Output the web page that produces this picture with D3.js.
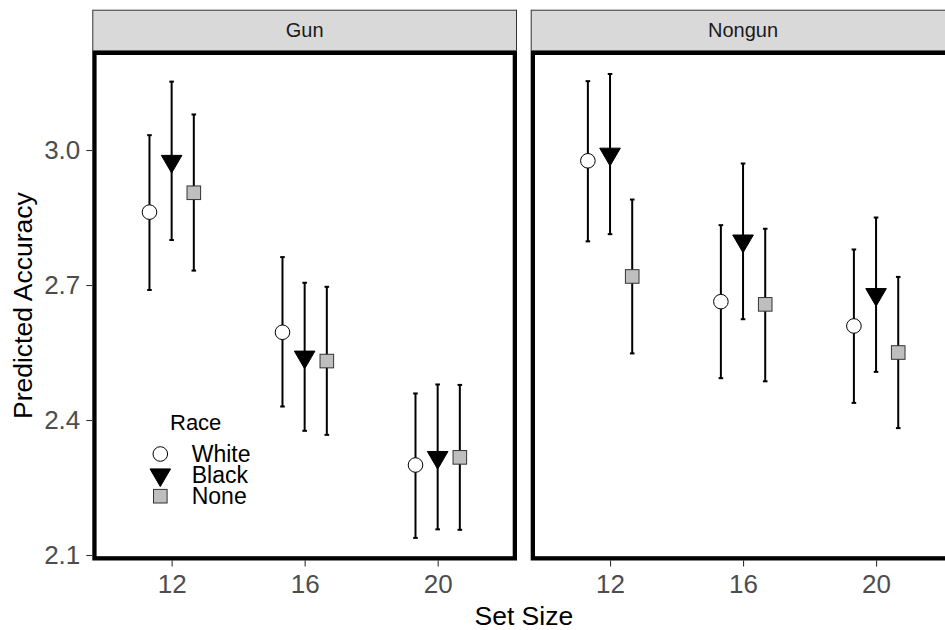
<!DOCTYPE html>
<html>
<head>
<meta charset="utf-8">
<script src="https://cdn.jsdelivr.net/npm/d3@7"></script>
<style>
  html, body { margin: 0; padding: 0; background: #fff; }
  svg { display: block; font-family: "Liberation Sans", Arial, sans-serif; }
</style>
</head>
<body>
<svg id="chart" width="945" height="630"></svg>
<script>
// Set sizes on the x axis and the two stimulus panels
const setSizes = [12, 16, 20];
const panels = ["Gun", "Nongun"];
const races = ["White", "Black", "None"];
const yTicks = [2.1, 2.4, 2.7, 3.0];

// Predicted accuracy with lower / upper interval bounds, per panel and race
const gunWhite      = [2.862, 2.595, 2.300];
const gunWhiteLo    = [2.689, 2.430, 2.138];
const gunWhiteHi    = [3.033, 2.762, 2.459];
const gunBlack      = [2.975, 2.540, 2.317];
const gunBlackLo    = [2.800, 2.376, 2.157];
const gunBlackHi    = [3.152, 2.705, 2.479];
const gunNone       = [2.905, 2.531, 2.317];
const gunNoneLo     = [2.732, 2.367, 2.156];
const gunNoneHi     = [3.079, 2.696, 2.478];

const nongunWhite   = [2.976, 2.663, 2.609];
const nongunWhiteLo = [2.797, 2.493, 2.438];
const nongunWhiteHi = [3.153, 2.833, 2.779];
const nongunBlack   = [2.991, 2.798, 2.679];
const nongunBlackLo = [2.813, 2.624, 2.507];
const nongunBlackHi = [3.169, 2.970, 2.850];
const nongunNone    = [2.719, 2.657, 2.550];
const nongunNoneLo  = [2.548, 2.486, 2.382];
const nongunNoneHi  = [2.890, 2.825, 2.718];

const series = {
  Gun: {
    White: [gunWhite, gunWhiteLo, gunWhiteHi],
    Black: [gunBlack, gunBlackLo, gunBlackHi],
    None:  [gunNone,  gunNoneLo,  gunNoneHi]
  },
  Nongun: {
    White: [nongunWhite, nongunWhiteLo, nongunWhiteHi],
    Black: [nongunBlack, nongunBlackLo, nongunBlackHi],
    None:  [nongunNone,  nongunNoneLo,  nongunNoneHi]
  }
};

const rows = [];
panels.forEach(p => races.forEach(r => setSizes.forEach((s, i) => {
  const [m, lo, hi] = series[p][r];
  rows.push({ panel: p, race: r, size: s, mean: m[i], lo: lo[i], hi: hi[i] });
})));

const svg = d3.select("#chart");
const FONT = '"Liberation Sans", Arial, sans-serif';

// Layout
const panelW = 424.7;
const panelLeft = { Gun: 92.3, Nongun: 530.7 };
const stripTop = 9.7, panelTop = 50.7, panelBottom = 560.5;

const y = d3.scaleLinear().domain([2.0878, 3.2207]).range([panelBottom, panelTop]);
const xDomain = [9.614, 22.386];
const dodge = { White: -2 / 3, Black: 0, None: 2 / 3 };

// Point shapes (ggplot-style 21, 25, 22)
const circleR = 7.3;
const sqSide = 13.6;
const triHalfW = 10.3, triR = 11.8, triYc = 5.9;

function drawShape(g, race, cx, cy) {
  if (race === "White") {
    g.append("circle").attr("cx", cx).attr("cy", cy).attr("r", circleR)
      .attr("fill", "#ffffff").attr("stroke", "#000").attr("stroke-width", 1);
  } else if (race === "Black") {
    const pts = [[cx, cy + triR], [cx + triHalfW, cy - triYc], [cx - triHalfW, cy - triYc]];
    g.append("polygon").attr("points", pts.map(p => p.join(",")).join(" "))
      .attr("fill", "#000").attr("stroke", "#000").attr("stroke-width", 1);
  } else {
    g.append("rect").attr("x", cx - sqSide / 2).attr("y", cy - sqSide / 2)
      .attr("width", sqSide).attr("height", sqSide)
      .attr("fill", "#bebebe").attr("stroke", "#333").attr("stroke-width", 1);
  }
}

panels.forEach(p => {
  const x0 = panelLeft[p];
  const x = d3.scaleLinear().domain(xDomain).range([x0, x0 + panelW]);
  const g = svg.append("g");

  // strip
  g.append("rect").attr("x", x0 + 0.5).attr("y", stripTop + 0.5)
    .attr("width", panelW - 1).attr("height", panelTop - stripTop - 0.5)
    .attr("fill", "#d9d9d9").attr("stroke", "#333").attr("stroke-width", 1);
  g.append("text").attr("x", x0 + panelW / 2).attr("y", (stripTop + panelTop) / 2)
    .attr("dy", "0.36em").attr("text-anchor", "middle")
    .attr("font-size", 20).attr("fill", "#1a1a1a").text(p);

  // panel background
  g.append("rect").attr("x", x0).attr("y", panelTop)
    .attr("width", panelW).attr("height", panelBottom - panelTop).attr("fill", "#fff");

  // x axis
  const xAxis = g.append("g").attr("transform", `translate(0,${panelBottom})`)
    .call(d3.axisBottom(x).tickValues(setSizes).tickFormat(d3.format("d"))
      .tickSize(6).tickSizeOuter(0).tickPadding(8.3));
  xAxis.select(".domain").remove();
  xAxis.selectAll(".tick line").attr("stroke", "#333").attr("stroke-width", 1.1);
  xAxis.selectAll(".tick text").attr("font-size", 26).attr("fill", "#4d4d4d")
    .attr("font-family", FONT);

  const pdata = rows.filter(d => d.panel === p);

  // error bars
  const eb = g.append("g");
  pdata.forEach(d => {
    const cx = x(d.size + dodge[d.race]);
    eb.append("line").attr("x1", cx).attr("x2", cx)
      .attr("y1", y(d.lo)).attr("y2", y(d.hi))
      .attr("stroke", "#000").attr("stroke-width", 2);
    [d.lo, d.hi].forEach(v => {
      eb.append("line").attr("x1", cx - 2.3).attr("x2", cx + 2.3)
        .attr("y1", y(v)).attr("y2", y(v))
        .attr("stroke", "#000").attr("stroke-width", 2);
    });
  });

  // points
  const pts = g.append("g");
  pdata.forEach(d => drawShape(pts, d.race, x(d.size + dodge[d.race]), y(d.mean)));

  // thick panel border (inner half visible)
  g.append("rect").attr("x", x0 + 2.15).attr("y", panelTop + 2.15)
    .attr("width", panelW - 4.3).attr("height", panelBottom - panelTop - 4.3)
    .attr("fill", "none").attr("stroke", "#000").attr("stroke-width", 4.3);
});

// y axis on the left panel
const yAxis = svg.append("g").attr("transform", `translate(${panelLeft.Gun},0)`)
  .call(d3.axisLeft(y).tickValues(yTicks).tickFormat(d3.format(".1f"))
    .tickSize(6).tickSizeOuter(0).tickPadding(6));
yAxis.select(".domain").remove();
yAxis.selectAll(".tick line").attr("stroke", "#333").attr("stroke-width", 1.1);
yAxis.selectAll(".tick text").attr("font-size", 26).attr("fill", "#4d4d4d")
  .attr("font-family", FONT);

// axis titles
svg.append("text").attr("x", (panelLeft.Gun + panelLeft.Nongun + panelW) / 2).attr("y", 625)
  .attr("text-anchor", "middle").attr("font-size", 26.5).attr("fill", "#000").text("Set Size");
svg.append("text")
  .attr("transform", `translate(31.5,${(panelTop + panelBottom) / 2}) rotate(-90)`)
  .attr("text-anchor", "middle").attr("font-size", 26.5).attr("fill", "#000")
  .text("Predicted Accuracy");

// legend inside the Gun panel
const legend = svg.append("g");
legend.append("text").attr("x", 170).attr("y", 430).attr("font-size", 22)
  .attr("fill", "#000").text("Race");
const keyY = [454, 474.8, 496.2];
const labY = [462.3, 482.9, 503.5];
races.forEach((r, i) => {
  drawShape(legend, r, 160.3, keyY[i]);
  legend.append("text").attr("x", 191.7).attr("y", labY[i]).attr("font-size", 23)
    .attr("fill", "#000").text(r);
});
</script>
</body>
</html>
